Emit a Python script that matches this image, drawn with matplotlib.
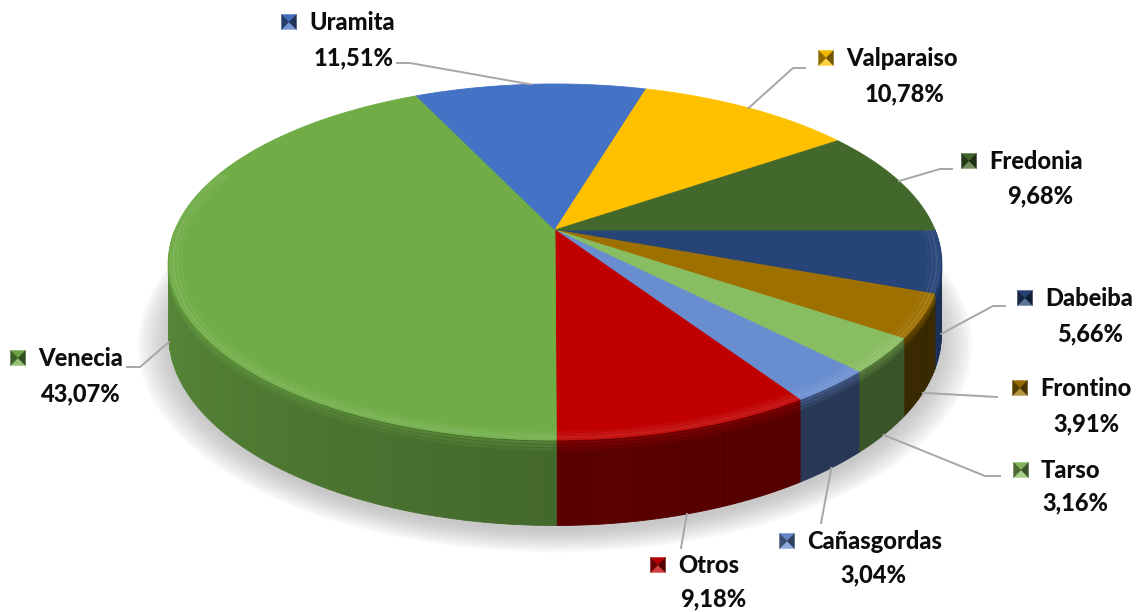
import numpy as np
import matplotlib.pyplot as plt
from matplotlib.patches import Polygon
from matplotlib.colors import to_rgb

plt.rcParams['font.family'] = ['Lato', 'DejaVu Sans']

# slices in clockwise order, starting at 3 o'clock
names = ['Dabeiba', 'Frontino', 'Tarso', 'Cañasgordas', 'Otros',
         'Venecia', 'Uramita', 'Valparaiso', 'Fredonia']
shares = [5.66, 3.91, 3.16, 3.04, 9.18, 43.07, 11.51, 10.78, 9.68]
pct_labels = ['5,66%', '3,91%', '3,16%', '3,04%', '9,18%',
              '43,07%', '11,51%', '10,78%', '9,68%']

top_colors = ['#264478', '#9E7000', '#89BD61', '#698ED0', '#C00000',
              '#70AD47', '#4472C4', '#FFC000', '#43682B']
side_colors = ['#1E3762', '#3F2D00', '#3E5C2A', '#2C3B5C', '#5A0000',
               '#43682B', '#2F5597', '#BF9000', '#2F4A1E']

# label layout (pixels): marker centre, percent centre, leader path after the rim anchor
label_layout = {
    'Dabeiba':     dict(mk=(1025, 298), pc=(1090, 333), path=[(993, 306), (1005, 306)], z=1.0),
    'Frontino':    dict(mk=(1020, 388), pc=(1086, 423), path=[(997, 397)], z=1.0),
    'Tarso':       dict(mk=(1021, 470), pc=(1075, 502), path=[(985, 476), (1000, 476)], z=1.0),
    'Cañasgordas': dict(mk=(787, 541), pc=(873, 574), path=[(821, 523)], z=1.0),
    'Otros':       dict(mk=(658, 565), pc=(713, 598), path=[(681, 548)], z=1.0),
    'Venecia':     dict(mk=(18, 358), pc=(81, 393), path=[(140, 367), (127, 367)], z=1.0),
    'Uramita':     dict(mk=(289, 22), pc=(354, 57), path=[(410, 63), (397, 63)], z=0.0),
    'Valparaiso':  dict(mk=(826, 58), pc=(904, 93), path=[(793, 68), (805, 68)], z=0.0),
    'Fredonia':    dict(mk=(969, 161), pc=(1040, 195), path=[(940, 169), (952, 169)], z=0.0),
}

# perspective disc: centre, half axes, foreshortening and thickness
CX, CY = 555, 230
A, B, K, D = 380, 172.3, 0.18, 70


def project(theta, r=1.0, z=0.0):
    u = r * np.cos(theta)
    v = r * np.sin(theta)
    w = 1 + K * v
    return CX + A * u / w, CY + (-B * v + D * z) / w


def mix(c, other, t):
    c = np.array(to_rgb(c))
    o = np.array(to_rgb(other))
    return tuple(np.clip(c * (1 - t) + o * t, 0, 1))


def scale(c, f):
    return tuple(np.clip(np.array(to_rgb(c)) * f, 0, 1))


fig = plt.figure(figsize=(11.41, 6.12), dpi=100)
ax = fig.add_axes([0, 0, 1, 1])
ax.set_xlim(0, 1141)
ax.set_ylim(612, 0)
ax.axis('off')

fracs = np.array(shares) / np.sum(shares)
cum = np.concatenate([[0], np.cumsum(fracs)])
starts = -2 * np.pi * cum[:-1]
ends = -2 * np.pi * cum[1:]

# soft shadow under the disc
th = np.linspace(0, 2 * np.pi, 300)
for i in range(14):
    r = 1.0 + 0.006 * i
    xs, ys = project(th, r=r, z=1.0)
    ys = ys + 5
    ax.add_patch(Polygon(np.column_stack([xs, ys]), closed=True,
                         facecolor='#7f7f7f', edgecolor='none', alpha=0.035, zorder=1))

# outer wall, front half only, drawn in thin strips for shading
strips = []
for i in range(len(names)):
    lo = max(ends[i], -np.pi)
    hi = min(starts[i], 0.0)
    if hi <= lo:
        continue
    n = max(2, int(np.degrees(hi - lo)))
    edges = np.linspace(lo, hi, n + 1)
    for a0, a1 in zip(edges[:-1], edges[1:]):
        strips.append((i, a0, a1))
strips.sort(key=lambda s: -abs((s[1] + s[2]) / 2 + np.pi / 2))
for i, a0, a1 in strips:
    tt = np.linspace(a0, a1, 4)
    xt, yt = project(tt, z=0.0)
    xb, yb = project(tt[::-1], z=1.0)
    t = ((a0 + a1) / 2 + np.pi) / np.pi
    f = 1.35 - 0.7 * t if t < 0.5 else 1.0 - 0.3 * (t - 0.5)
    col = scale(side_colors[i], f)
    ax.add_patch(Polygon(np.column_stack([np.r_[xt, xb], np.r_[yt, yb]]), closed=True,
                         facecolor=col, edgecolor=col, lw=0.6, zorder=2))

# top face
for i in range(len(names)):
    n = max(3, int(np.degrees(starts[i] - ends[i]) * 2))
    tt = np.linspace(starts[i], ends[i], n)
    xs, ys = project(tt)
    pts = np.column_stack([np.r_[CX, xs], np.r_[CY, ys]])
    ax.add_patch(Polygon(pts, closed=True, facecolor=top_colors[i],
                         edgecolor=top_colors[i], lw=0.6, zorder=3))

# rounded rim: soft light band on the top, shaded band just under it
for i in range(len(names)):
    lo = max(ends[i], -np.pi - 0.35)
    hi = min(starts[i], 0.0)
    if hi <= lo:
        continue
    tt = np.linspace(lo, hi, 80)
    light = mix(top_colors[i], 'white', 0.25)
    for r, a in [(0.968, 0.15), (0.978, 0.3), (0.988, 0.45), (0.996, 0.3)]:
        xs, ys = project(tt, r=r)
        ax.plot(xs, ys, color=light, lw=1.6, alpha=a, solid_capstyle='butt', zorder=4)
    for z, a in [(0.03, 0.35), (0.07, 0.25), (0.11, 0.15)]:
        xs, ys = project(tt, r=1.0, z=z)
        ax.plot(xs, ys, color=top_colors[i], lw=1.8, alpha=a,
                solid_capstyle='butt', zorder=4)

# labels with leader lines and bevelled legend keys
s = 7.5
for i, name in enumerate(names):
    lay = label_layout[name]
    mid = (starts[i] + ends[i]) / 2
    ax0, ay0 = project(mid, r=1.0, z=lay['z'])
    px = [ax0] + [p[0] for p in lay['path']]
    py = [ay0] + [p[1] for p in lay['path']]
    ax.plot(px, py, color='#A6A6A6', lw=1.4, zorder=5)

    mx, my = lay['mk']
    c = top_colors[i]
    tri = {
        'top': [(mx - s, my - s), (mx + s, my - s), (mx, my)],
        'bottom': [(mx - s, my + s), (mx + s, my + s), (mx, my)],
        'left': [(mx - s, my - s), (mx - s, my + s), (mx, my)],
        'right': [(mx + s, my - s), (mx + s, my + s), (mx, my)],
    }
    shades = {'top': scale(c, 0.95), 'bottom': mix(c, 'white', 0.25),
              'left': scale(c, 0.55), 'right': scale(c, 0.45)}
    for k, poly in tri.items():
        ax.add_patch(Polygon(poly, closed=True, facecolor=shades[k],
                             edgecolor=shades[k], lw=0.3, zorder=6))

    ax.text(mx + 20, my + 8, name, fontsize=17, fontweight='black',
            color='#0D0D0D', ha='left', va='baseline', zorder=6)
    ax.text(lay['pc'][0], lay['pc'][1] + 8, pct_labels[i], fontsize=17,
            fontweight='black', color='#0D0D0D', ha='center', va='baseline', zorder=6)

fig.savefig('out.png', dpi=100)
